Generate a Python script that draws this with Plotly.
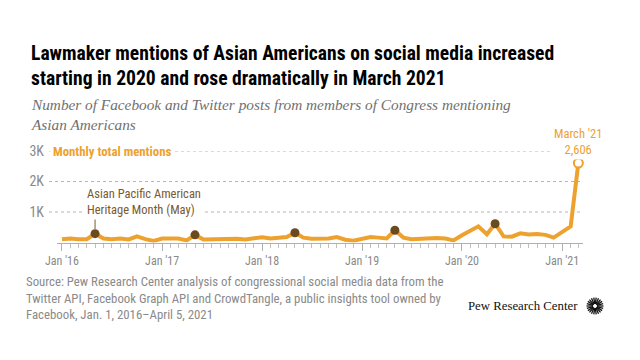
import math
import pandas as pd
import plotly.graph_objects as go

# ---------------- data ----------------
months = list(pd.date_range("2016-01-01", "2021-03-01", freq="MS"))
mentions = [110, 130, 110, 110, 290, 130, 110, 130, 100, 200, 110, 50,
            130, 130, 130, 70, 250, 100, 110, 120, 140, 120, 100, 130,
            170, 130, 160, 180, 320, 160, 120, 120, 130, 180, 90, 60,
            130, 180, 160, 130, 400, 160, 110, 130, 140, 150, 130, 70,
            240, 400, 530, 270, 615, 200, 190, 300, 260, 280, 250, 160,
            330, 530, 2606]
heritage_dates = [m for m in months if m.month == 5]
heritage_vals = [v for m, v in zip(months, mentions) if m.month == 5]
tick_dates = ["2016-01-01", "2017-01-01", "2018-01-01", "2019-01-01", "2020-01-01", "2021-01-01"]
tick_labels = ["Jan '16", "Jan '17", "Jan '18", "Jan '19", "Jan '20", "Jan '21"]
y_ticks = [1000, 2000, 3000]
y_tick_labels = ["1K", "2K", "3K"]

title_lines = ["Lawmaker mentions of Asian Americans on social media increased",
               "starting in 2020 and rose dramatically in March 2021"]
subtitle_lines = ["Number of Facebook and Twitter posts from members of Congress mentioning",
                  "Asian Americans"]
source_lines = ["Source: Pew Research Center analysis of congressional social media data from the",
                "Twitter API, Facebook Graph API and CrowdTangle, a public insights tool owned by",
                "Facebook, Jan. 1, 2016\u2013April 5, 2021"]

OFF = 8  # page body margin
W, H = 632, 352
ORANGE = "#EDA12F"
BROWN = "#6B4A1F"
BROWN_TXT = "#7A5A2E"
GRAY = "#8A8A8A"
SANS = "Roboto Condensed, DejaVu Sans Condensed, sans-serif"
SERIF = "Liberation Serif, DejaVu Serif, serif"

def px(x):
    return (x - OFF) / W

def py(y):
    return 1 - (y - OFF) / H

x_left, x_right = 57, 583
y_zero, y_top = 242.5, 151

fig = go.Figure()
fig.add_trace(go.Scatter(x=months, y=mentions, mode="lines",
                         line=dict(color=ORANGE, width=4), cliponaxis=False,
                         hoverinfo="skip"))
fig.add_trace(go.Scatter(x=heritage_dates, y=heritage_vals, mode="markers",
                         marker=dict(color=BROWN, size=9, line=dict(width=0)),
                         cliponaxis=False, hoverinfo="skip"))
fig.add_trace(go.Scatter(x=[months[-1]], y=[mentions[-1]], mode="markers",
                         marker=dict(color="white", size=9, line=dict(color=ORANGE, width=2)),
                         cliponaxis=False, hoverinfo="skip"))

shapes = []
for v in y_ticks:
    shapes.append(dict(type="line", xref="paper", yref="y", x0=px(49), x1=px(583),
                       y0=v, y1=v, line=dict(color="#b5b5b5", width=1, dash="dot"),
                       layer="below"))
# pointer line for heritage annotation
shapes.append(dict(type="line", xref="x", yref="paper", x0=heritage_dates[0], x1=heritage_dates[0],
                   y0=py(217), y1=py(229), line=dict(color=BROWN_TXT, width=1)))
# logo sunburst
cx, cy = 595, 306
n = 22
for i in range(n):
    a = 2 * math.pi * i / n
    shapes.append(dict(type="line", xref="paper", yref="paper",
                       x0=px(cx + 2.0 * math.cos(a)), y0=py(cy + 2.0 * math.sin(a)),
                       x1=px(cx + 8.5 * math.cos(a)), y1=py(cy + 8.5 * math.sin(a)),
                       line=dict(color="#111111", width=1.3)))

def ann(**kw):
    kw.setdefault("xref", "paper")
    kw.setdefault("yref", "paper")
    kw.setdefault("showarrow", False)
    kw.setdefault("xanchor", "left")
    kw.setdefault("yanchor", "middle")
    kw.setdefault("align", "left")
    return kw

annotations = [
    ann(text="<b>" + "<br>".join(title_lines) + "</b>", x=px(29), y=py(66),
        font=dict(family=SANS, size=19.6, color="#000000")),
    ann(text="<i>" + "<br>".join(subtitle_lines) + "</i>", x=px(29), y=py(114.5),
        font=dict(family=SERIF, size=15.3, color="#707070")),
    ann(text="<br>".join(source_lines), x=px(24), y=py(298),
        font=dict(family=SANS, size=12.8, color=GRAY)),
    ann(text="<b>Monthly total mentions</b>", x=px(50), y=py(151),
        bgcolor="white", borderpad=2,
        font=dict(family=SANS, size=12.8, color=ORANGE)),
    ann(text="Asian Pacific American<br>Heritage Month (May)", x=px(84), y=py(201),
        bgcolor="white", borderpad=2,
        font=dict(family=SANS, size=12.5, color=BROWN_TXT)),
    ann(text="March '21<br>2,606", x=px(578), y=py(141.5), xanchor="center",
        align="center", bgcolor="white", borderpad=2,
        font=dict(family=SANS, size=12.5, color=ORANGE)),
    ann(text="Pew Research Center", x=px(580), y=py(306), xanchor="right",
        font=dict(family=SERIF, size=12.8, color="#111111")),
]

fig.update_layout(
    width=W, height=H, margin=dict(l=0, r=0, t=0, b=0),
    paper_bgcolor="white", plot_bgcolor="white", showlegend=False,
    shapes=shapes, annotations=annotations,
    xaxis=dict(domain=[px(x_left), px(x_right)], type="date",
               range=["2015-12-14", "2021-03-18"],
               tickvals=tick_dates, ticktext=tick_labels,
               showgrid=False, zeroline=False, showline=True, linecolor="#b0b0b0", linewidth=1,
               ticks="outside", ticklen=7, tickcolor="#b0b0b0", tickwidth=1,
               minor=dict(dtick="M1", tick0="2016-01-01", ticks="outside", ticklen=4,
                          tickcolor="#c0c0c0", showgrid=False),
               tickfont=dict(family=SANS, size=12, color=GRAY), automargin=False, fixedrange=True),
    yaxis=dict(domain=[py(y_zero), py(y_top)], range=[0, 3000],
               tickvals=y_ticks, ticktext=y_tick_labels, showgrid=False, zeroline=False,
               showline=False, ticks="", ticklabelstandoff=12,
               tickfont=dict(family=SANS, size=14, color=GRAY), automargin=False, fixedrange=True),
)

fig.write_html("out.html")
